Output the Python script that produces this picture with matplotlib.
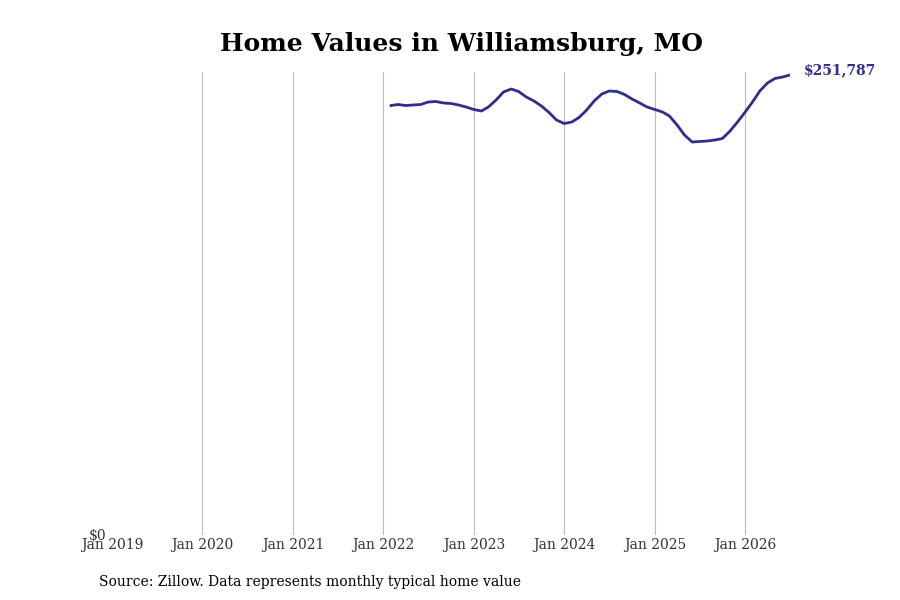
import numpy as np
import pandas as pd
import matplotlib
matplotlib.use("Agg")
import matplotlib.pyplot as plt

plt.rcParams['font.family'] = ['DejaVu Serif']

# monthly typical home value, Feb 2022 - Jul 2026
dates = pd.date_range("2022-02-01", "2026-07-01", freq="MS")
values = [
    235108, 235656, 235108, 235382, 235656, 237024, 237298, 236477, 236203, 235382, 234287,
    232919, 232098, 234287, 238119, 242498, 244140, 242771, 239761, 237572, 234835, 231277, 227171,
    225255, 226076, 228540, 232645, 237572, 241403, 243046, 242771, 241130, 238666, 236477, 234287,
    232919, 231550, 229361, 224434, 218960, 215128, 215402, 215676, 216223, 217044, 221150, 226076,
    231550, 237298, 243046, 247425, 249888, 250709, 251787,
]
tick_years = list(range(2019, 2027))
tick_dates = [pd.Timestamp(f"{y}-01-01") for y in tick_years]
tick_labels = [f"Jan {y}" for y in tick_years]
title = "Home Values in Williamsburg, MO"
source = "Source: Zillow. Data represents monthly typical home value"

line_color = "#2e2e8c"

fig = plt.figure(figsize=(9, 6), dpi=100)
ax = fig.add_axes([112/900, 1-535/600, (790-112)/900, (535-72)/600])

ax.plot(dates, values, color=line_color, linewidth=2)

ax.set_xlim(tick_dates[0], dates[-1])
ax.set_ylim(0, 253450)
ax.set_xticks(tick_dates)
ax.set_xticklabels(tick_labels, fontsize=10, color="#333333")
ax.set_yticks([0])
ax.set_yticklabels(["$0"], fontsize=10, color="#333333")
ax.tick_params(length=0, pad=2)
ax.tick_params(axis='y', pad=4)
for s in ax.spines.values():
    s.set_visible(False)
ax.grid(axis='x', color="#bbbbbb", linewidth=0.8)
ax.get_xgridlines()[0].set_visible(False)

ax.annotate(f"${values[-1]:,}", xy=(dates[-1], values[-1]), xytext=(9.7, 3.5),
            textcoords="offset points", color=line_color, fontsize=10,
            fontweight="bold", va="center", ha="left")

fig.text(461/900, 1-43.5/600, title, fontsize=18, fontweight="bold", ha="center", va="center")
fig.text(99/900, 1-582/600, source, fontsize=10, ha="left", va="center")

fig.savefig("out.png", dpi=100)
